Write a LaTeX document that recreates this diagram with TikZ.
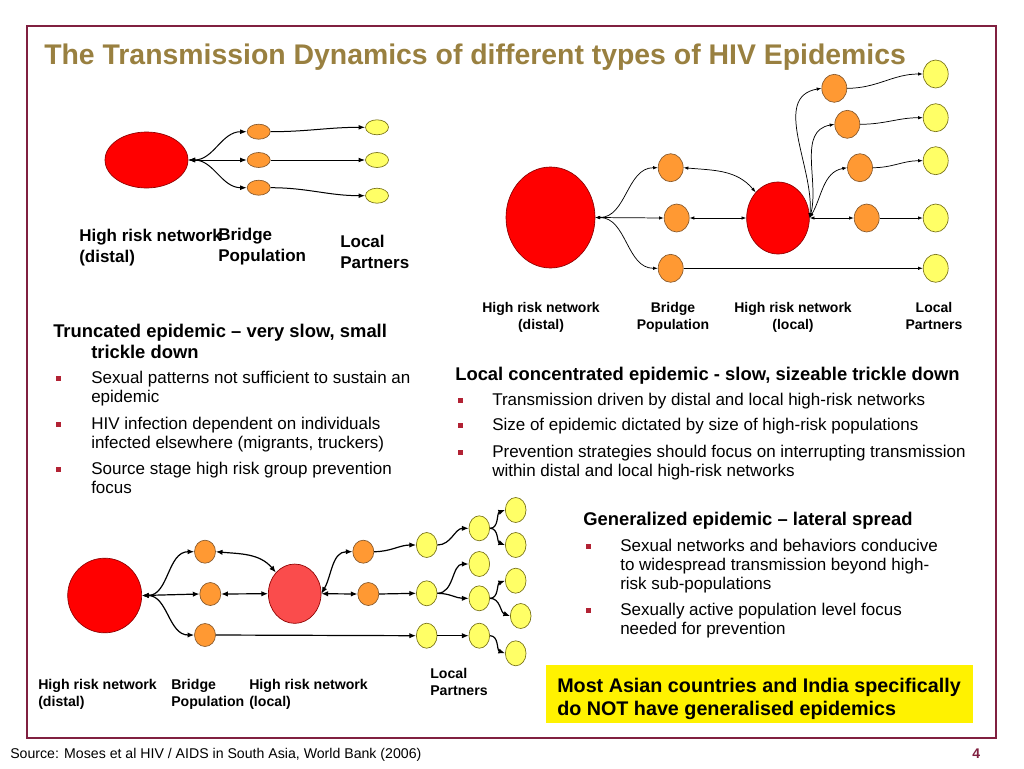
\documentclass[tikz,border=0pt]{standalone}
\usepackage{fontspec}
\setmainfont{Liberation Sans}
\usepackage{xcolor}
\usetikzlibrary{shapes.geometric,arrows.meta}
\definecolor{framered}{RGB}{128,32,64}
\definecolor{titlegold}{RGB}{153,128,64}
\definecolor{bulletred}{RGB}{178,34,52}
\definecolor{hubred}{RGB}{255,0,0}
\definecolor{localred}{RGB}{250,76,76}
\definecolor{bridgeorange}{RGB}{255,153,51}
\definecolor{partneryellow}{RGB}{255,255,102}
\tikzset{>={Latex[length=5pt,width=3.5pt]}}
\tikzset{
  hub/.style={ellipse,draw=red!55!black,fill=hubred,inner sep=0pt,line width=0.5pt},
  bridge/.style={ellipse,draw=brown!70!black,fill=bridgeorange,inner sep=0pt,line width=0.5pt},
  partner/.style={ellipse,draw=olive!80!black,fill=partneryellow,inner sep=0pt,line width=0.5pt},
  linka/.style={line width=0.75pt,>={Latex[length=5pt,width=3.6pt]}},
  linkb/.style={line width=0.55pt,>={Latex[length=3.6pt,width=2.6pt]}},
  linkc/.style={line width=0.9pt,>={Latex[length=5pt,width=4pt]}},
  lbla/.style={font=\bfseries\fontsize{12.75}{15.4}\selectfont,align=left,anchor=base west,inner sep=0pt},
  lblb/.style={font=\bfseries\fontsize{10.5}{12.75}\selectfont,align=center,anchor=base,inner sep=0pt},
  lblc/.style={font=\bfseries\fontsize{10.6}{12.75}\selectfont,align=left,anchor=base west,inner sep=0pt},
  head/.style={font=\bfseries\fontsize{13.8}{15.75}\selectfont,align=left,anchor=base west,inner sep=0pt},
  body/.style={font=\fontsize{12.75}{14.25}\selectfont,align=left,anchor=base west,inner sep=0pt},
  dot/.style={rectangle,fill=bulletred,minimum size=3.75pt,inner sep=0pt}
}

\begin{document}
\begin{tikzpicture}[x=0.75pt,y=-0.75pt]
  \useasboundingbox (0,0) rectangle (1024,768);

  % Frame and title
  \draw[framered,line width=0.8pt] (27,26) rectangle (996,738);
  \node[anchor=base west,inner sep=0pt,text=titlegold,font=\bfseries\fontsize{21.3}{25}\selectfont] (title) at (44,64) {The Transmission Dynamics of different types of HIV Epidemics};

  % Truncated epidemic
  \node[hub,minimum width=62.25pt,minimum height=42pt] (adist) at (146.5,160) {};
  \node[bridge,minimum width=17.25pt,minimum height=11.25pt] (abr1) at (258.7,131.7) {};
  \node[bridge,minimum width=17.25pt,minimum height=11.25pt] (abr2) at (258.7,160) {};
  \node[bridge,minimum width=17.25pt,minimum height=11.25pt] (abr3) at (258.7,187.7) {};
  \node[partner,minimum width=17.25pt,minimum height=11.25pt] (alp1) at (377,127.3) {};
  \node[partner,minimum width=17.25pt,minimum height=11.25pt] (alp2) at (377,160) {};
  \node[partner,minimum width=17.25pt,minimum height=11.25pt] (alp3) at (377,195.7) {};

  \draw[linka,<->] (adist.east) to[out=0,in=180] (abr1.west);
  \draw[linka,<->] (adist.east) -- (abr2.west);
  \draw[linka,<->] (adist.east) to[out=0,in=180] (abr3.west);
  \draw[linka,->] (abr1.east) to[out=0,in=180] (alp1.west);
  \draw[linka,->] (abr2.east) -- (alp2.west);
  \draw[linka,->] (abr3.east) to[out=0,in=180] (alp3.west);

  \node[lbla] (adistlbl) at (79,262) {High risk network\\(distal)};
  \node[lbla] (abrlbl) at (218,261.5) {Bridge\\Population};
  \node[lbla] (alplbl) at (340,268) {Local\\Partners};

  % Local concentrated epidemic
  \node[hub,minimum width=66.75pt,minimum height=75.75pt] (bdist) at (550.5,217.5) {};
  \node[bridge,minimum width=18.75pt,minimum height=21pt] (bbr1) at (670.7,167.7) {};
  \node[bridge,minimum width=18.75pt,minimum height=21pt] (bbr2) at (676.7,218) {};
  \node[bridge,minimum width=18.75pt,minimum height=21pt] (bbr3) at (670.7,268.3) {};
  \node[hub,minimum width=47pt,minimum height=54pt] (bloc) at (778,218) {};
  \node[bridge,minimum width=18.75pt,minimum height=21pt] (bhr1) at (834.3,88.3) {};
  \node[bridge,minimum width=18.75pt,minimum height=21pt] (bhr2) at (847.3,124.3) {};
  \node[bridge,minimum width=18.75pt,minimum height=21pt] (bhr3) at (860,167.7) {};
  \node[bridge,minimum width=18.75pt,minimum height=21pt] (bhr4) at (866.7,218) {};
  \node[partner,minimum width=18.75pt,minimum height=21pt] (blp1) at (935.7,74) {};
  \node[partner,minimum width=18.75pt,minimum height=21pt] (blp2) at (935.7,117.7) {};
  \node[partner,minimum width=18.75pt,minimum height=21pt] (blp3) at (935.7,160.7) {};
  \node[partner,minimum width=18.75pt,minimum height=21pt] (blp4) at (935.7,218) {};
  \node[partner,minimum width=18.75pt,minimum height=21pt] (blp5) at (935.7,268.3) {};

  \draw[linkb,<->] (bdist.east) to[out=0,in=180] (bbr1.west);
  \draw[linkb,<->] (bdist.east) -- (bbr2.west);
  \draw[linkb,<->] (bdist.east) to[out=0,in=180] (bbr3.west);
  \draw[linkb,<->] (bbr1.east) to[out=-5,in=130] (bloc.north west);
  \draw[linkb,<->] (bbr2.east) -- (bloc.west);
  \draw[linkb,->] (bbr3.east) -- (blp5.west);
  \draw[linkb,<->] (bloc.east) to[out=85,in=190] (bhr1.west);
  \draw[linkb,<->] (bloc.east) to[out=75,in=190] (bhr2.west);
  \draw[linkb,<->] (bloc.east) to[out=60,in=190] (bhr3.west);
  \draw[linkb,<->] (bloc.east) -- (bhr4.west);
  \draw[linkb,->] (bhr1.east) to[out=0,in=180] (blp1.west);
  \draw[linkb,->] (bhr2.east) to[out=0,in=180] (blp2.west);
  \draw[linkb,->] (bhr3.east) to[out=0,in=180] (blp3.west);
  \draw[linkb,->] (bhr4.east) -- (blp4.west);

  \node[lblb] (bdistlbl) at (541,329.5) {High risk network\\(distal)};
  \node[lblb] (bbrlbl) at (673,329.5) {Bridge\\Population};
  \node[lblb] (bloclbl) at (793,329.5) {High risk network\\(local)};
  \node[lblb] (blplbl) at (934,329.5) {Local\\Partners};

  % Generalized epidemic
  \node[hub,minimum width=55.5pt,minimum height=56pt] (cdist) at (104.7,595.5) {};
  \node[bridge,minimum width=15.75pt,minimum height=17.25pt] (cbr1) at (205,551.7) {};
  \node[bridge,minimum width=15.75pt,minimum height=17.25pt] (cbr2) at (210.3,594) {};
  \node[bridge,minimum width=15.75pt,minimum height=17.25pt] (cbr3) at (205,635) {};
  \node[hub,fill=localred,minimum width=39.5pt,minimum height=44.5pt] (cloc) at (294.7,593.7) {};
  \node[bridge,minimum width=15.75pt,minimum height=17.25pt] (chr1) at (363.3,551.7) {};
  \node[bridge,minimum width=15.75pt,minimum height=17.25pt] (chr2) at (368.3,594) {};
  \node[partner,minimum width=15.5pt,minimum height=18.75pt] (cp1) at (426.7,545) {};
  \node[partner,minimum width=15.5pt,minimum height=18.75pt] (cp2) at (426.7,593.3) {};
  \node[partner,minimum width=15.5pt,minimum height=18.75pt] (cp3) at (426.7,635.7) {};
  \node[partner,minimum width=15.5pt,minimum height=18.75pt] (cq1) at (479.3,528.3) {};
  \node[partner,minimum width=15.5pt,minimum height=18.75pt] (cq2) at (479.3,564) {};
  \node[partner,minimum width=15.5pt,minimum height=18.75pt] (cq3) at (479.3,598.3) {};
  \node[partner,minimum width=15.5pt,minimum height=18.75pt] (cq4) at (479.3,635.7) {};
  \node[partner,minimum width=15.5pt,minimum height=18.75pt] (cr1) at (515.7,510) {};
  \node[partner,minimum width=15.5pt,minimum height=18.75pt] (cr2) at (515.7,545) {};
  \node[partner,minimum width=15.5pt,minimum height=18.75pt] (cr3) at (515.7,580.7) {};
  \node[partner,minimum width=15.5pt,minimum height=18.75pt] (cr4) at (520.7,616) {};
  \node[partner,minimum width=15.5pt,minimum height=18.75pt] (cr5) at (515.7,653.3) {};

  \draw[linkc,<->] (cdist.east) to[out=0,in=180] (cbr1.west);
  \draw[linkc,<->] (cdist.east) -- (cbr2.west);
  \draw[linkc,<->] (cdist.east) to[out=0,in=180] (cbr3.west);
  \draw[linkc,<->] (cbr1.east) to[out=-5,in=130] (cloc.north west);
  \draw[linkc,<->] (cbr2.east) -- (cloc.west);
  \draw[linkc,->] (cbr3.east) -- (cp3.west);
  \draw[linkc,<->] (cloc.east) to[out=60,in=180] (chr1.west);
  \draw[linkc,<->] (cloc.east) -- (chr2.west);
  \draw[linkc,->] (chr1.east) to[out=0,in=180] (cp1.west);
  \draw[linkc,->] (chr2.east) -- (cp2.west);
  \draw[linkc,->] (cp1.east) to[out=0,in=180] (cq1.west);
  \draw[linkc,->] (cp2.east) to[out=0,in=180] (cq2.west);
  \draw[linkc,->] (cp2.east) to[out=0,in=180] (cq3.west);
  \draw[linkc,->] (cp3.east) -- (cq4.west);
  \draw[linkc,->] (cq1.east) to[out=0,in=200] (cr1.west);
  \draw[linkc,->] (cq1.east) to[out=0,in=160] (cr2.west);
  \draw[linkc,->] (cq3.east) to[out=0,in=200] (cr3.west);
  \draw[linkc,->] (cq3.east) to[out=0,in=160] (cr4.west);
  \draw[linkc,->] (cq4.east) to[out=0,in=160] (cr5.west);

  \node[lblc] (cdistlbl) at (38,706.5) {High risk network\\(distal)};
  \node[lblc] (cbrlbl) at (171,706.5) {Bridge\\Population};
  \node[lblc] (cloclbl) at (249,706.5) {High risk network\\(local)};
  \node[lblc] (clplbl) at (430,695.5) {Local\\Partners};

  % Text blocks
  \node[head] (ahead) at (53,358.5) {Truncated epidemic – very slow, small\\\hspace*{28.5pt}trickle down};
  \node[dot] (adot1) at (58,378) {};
  \node[dot] (adot2) at (58,424) {};
  \node[dot] (adot3) at (58,469) {};
  \node[body] (atext1) at (91,402.5) {Sexual patterns not sufficient to sustain an\\epidemic};
  \node[body] (atext2) at (91,448.5) {HIV infection dependent on individuals\\infected elsewhere (migrants, truckers)};
  \node[body] (atext3) at (91,493.5) {Source stage high risk group prevention\\focus};

  \node[head] (bhead) at (455,380.5) {Local concentrated epidemic - slow, sizeable trickle down};
  \node[dot] (bdot1) at (460,400) {};
  \node[dot] (bdot2) at (460,425) {};
  \node[dot] (bdot3) at (460,452) {};
  \node[body] (btext1) at (492,405.5) {Transmission driven by distal and local high-risk networks};
  \node[body] (btext2) at (492,430.5) {Size of epidemic dictated by size of high-risk populations};
  \node[body] (btext3) at (492,476.5) {Prevention strategies should focus on interrupting transmission\\within distal and local high-risk networks};

  \node[head] (chead) at (583,525.5) {Generalized epidemic – lateral spread};
  \node[dot] (cdot1) at (588,546) {};
  \node[dot] (cdot2) at (588,610) {};
  \node[body] (ctext1) at (620,589.5) {Sexual networks and behaviors conducive\\to widespread transmission beyond high-\\risk sub-populations};
  \node[body] (ctext2) at (620,634.5) {Sexually active population level focus\\needed for prevention};

  % Note and footer
  \fill[yellow] (546,665) rectangle (973,723);
  \node[anchor=base west,inner sep=0pt,align=left,font=\bfseries\fontsize{14.8}{17.25}\selectfont] (asia) at (557,715) {Most Asian countries and India specifically\\do NOT have generalised epidemics};
  \node[anchor=base west,inner sep=0pt,font=\fontsize{10.6}{12}\selectfont] (source) at (10,758.5) {Source: Moses et al HIV / AIDS in South Asia, World Bank (2006)};
  \node[anchor=base west,inner sep=0pt,text=framered,font=\bfseries\fontsize{10.5}{12}\selectfont] (pageno) at (972,758) {4};
\end{tikzpicture}
\end{document}
